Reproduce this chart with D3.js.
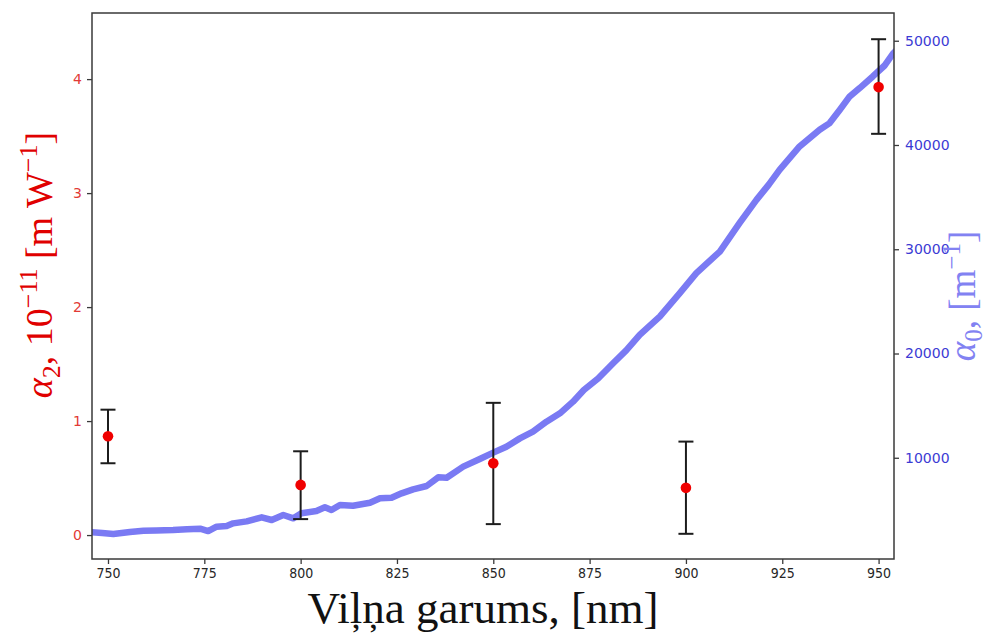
<!DOCTYPE html>
<html>
<head>
<meta charset="utf-8">
<script src="https://cdn.jsdelivr.net/npm/d3@7/dist/d3.min.js"></script>
<style>
  body { margin: 0; background: #fff; }
  svg { display: block; }
</style>
</head>
<body>
<div id="chart"></div>
<script>
// alpha2 measurements (left axis, 10^-11 m/W) with error bars
var pointWl = [750, 800, 850, 900, 950];
var alpha2 = [0.867, 0.44, 0.63, 0.414, 3.93];
var alpha2Lo = [0.63, 0.14, 0.096, 0.011, 3.52];
var alpha2Hi = [1.10, 0.735, 1.16, 0.82, 4.35];

// alpha0 absorption curve (right axis, 1/m)
var curveWl = [745.8, 748.5, 751.4, 755.7, 759.2, 762.5, 766.9, 770.5, 773.9, 776.0, 778.2, 780.8,
  782.5, 786.0, 789.9, 792.5, 795.5, 798.1, 800.2, 804.1, 806.3, 808.0, 810.2, 813.6, 818.0,
  820.6, 823.6, 826.2, 829.2, 832.7, 835.7, 837.9, 842.2, 846.5, 850.0, 853.4, 856.9, 860.3,
  863.8, 867.3, 870.7, 873.5, 877.2, 881.1, 884.5, 888.0, 893.2, 898.4, 902.7, 908.8, 913.9,
  918.3, 921.5, 924.3, 929.5, 934.7, 937.3, 940.0, 942.5, 945.1, 948.5, 951.5, 953.7, 956.0];
var alpha0 = [2850, 2780, 2690, 2880, 3000, 3030, 3070, 3140, 3200, 2970, 3390, 3450,
  3710, 3900, 4290, 4030, 4510, 4190, 4670, 4890, 5250, 4990, 5470, 5400, 5690,
  6110, 6170, 6590, 6970, 7290, 8120, 8090, 9150, 9880, 10490, 11060, 11860, 12500,
  13460, 14260, 15380, 16500, 17600, 19070, 20300, 21790, 23540, 25790, 27710, 29780, 32500,
  34740, 36200, 37620, 39860, 41460, 42100, 43400, 44660, 45460, 46570, 47600, 48750, 49600];

var xTicks = [750, 775, 800, 825, 850, 875, 900, 925, 950];
var leftTicks = [0, 1, 2, 3, 4];
var rightTicks = [10000, 20000, 30000, 40000, 50000];

var svgWidth = 994, svgHeight = 635;
var margin = { top: 13, bottom: 76, left: 92, right: 100 };
var width = svgWidth - margin.left - margin.right;
var height = svgHeight - margin.top - margin.bottom;

var svg = d3.select("#chart").append("svg")
    .attr("width", svgWidth)
    .attr("height", svgHeight);

var chartGroup = svg.append("g")
    .attr("transform", `translate(${margin.left}, ${margin.top})`);

var xScale = d3.scaleLinear().domain([745.85, 954.0]).range([0, width]);
var yLeft = d3.scaleLinear().domain([-0.21, 4.58]).range([height, 0]);
var yRight = d3.scaleLinear().domain([290, 52660]).range([height, 0]);

chartGroup.append("clipPath").attr("id", "plotclip")
  .append("rect").attr("width", width).attr("height", height);

// blue curve
var curve = curveWl.map((w, i) => ({ w: w, v: alpha0[i] }));
var line = d3.line().x(d => xScale(d.w)).y(d => yRight(d.v));
chartGroup.append("path")
    .datum(curve)
    .attr("clip-path", "url(#plotclip)")
    .attr("d", line)
    .attr("fill", "none")
    .attr("stroke", "rgb(122,122,243)")
    .attr("stroke-width", 6.5)
    .attr("stroke-linejoin", "round")
    .attr("stroke-linecap", "round");

// error bars
var pts = pointWl.map((w, i) => ({ w: w, v: alpha2[i], lo: alpha2Lo[i], hi: alpha2Hi[i] }));
var bars = chartGroup.append("g").attr("stroke", "#1c1c1c").attr("stroke-width", 2);
pts.forEach(function(d) {
  var cx = xScale(d.w);
  bars.append("line").attr("x1", cx).attr("x2", cx).attr("y1", yLeft(d.lo)).attr("y2", yLeft(d.hi));
  bars.append("line").attr("x1", cx - 7.5).attr("x2", cx + 7.5).attr("y1", yLeft(d.lo)).attr("y2", yLeft(d.lo));
  bars.append("line").attr("x1", cx - 7.5).attr("x2", cx + 7.5).attr("y1", yLeft(d.hi)).attr("y2", yLeft(d.hi));
});

chartGroup.selectAll("circle")
    .data(pts)
    .enter()
    .append("circle")
    .attr("cx", d => xScale(d.w))
    .attr("cy", d => yLeft(d.v))
    .attr("r", 5.3)
    .attr("fill", "#f00000");

// frame
chartGroup.append("rect")
    .attr("width", width).attr("height", height)
    .attr("fill", "none").attr("stroke", "#3a3a3a").attr("stroke-width", 1.5);

function styleAxis(g, color, size) {
  g.select(".domain").remove();
  g.selectAll(".tick line").attr("stroke", "#3a3a3a").attr("stroke-width", 1.3);
  g.selectAll(".tick text")
    .attr("fill", color)
    .style("font-family", "DejaVu Sans, sans-serif")
    .style("font-size", size + "px");
}

var xAxis = chartGroup.append("g")
    .attr("transform", `translate(0, ${height})`)
    .call(d3.axisBottom(xScale).tickValues(xTicks).tickSize(5).tickPadding(4).tickFormat(d3.format("d")));
styleAxis(xAxis, "#262626", 14);
xAxis.selectAll(".tick text").attr("transform", "scale(0.9,1)");

var leftAxis = chartGroup.append("g")
    .call(d3.axisLeft(yLeft).tickValues(leftTicks).tickSize(5).tickPadding(5).tickFormat(d3.format("d")));
styleAxis(leftAxis, "#e23a36", 14);

var rightAxis = chartGroup.append("g")
    .attr("transform", `translate(${width}, 0)`)
    .call(d3.axisRight(yRight).tickValues(rightTicks).tickSize(5).tickPadding(6).tickFormat(d3.format("d")));
styleAxis(rightAxis, "#3b3bd4", 14);

// axis titles
var serif = "Liberation Serif, Times New Roman, serif";

svg.append("text")
    .attr("x", 483).attr("y", 623)
    .attr("text-anchor", "middle")
    .style("font-family", serif).style("font-size", "45px")
    .attr("fill", "#111")
    .text("Viļņa garums, [nm]");

var leftTitle = svg.append("text")
    .attr("transform", "translate(52, 265) rotate(-90)")
    .attr("text-anchor", "middle")
    .style("font-family", serif).style("font-size", "38px")
    .attr("fill", "#e00000");
leftTitle.append("tspan").style("font-style", "italic").text("α");
leftTitle.append("tspan").attr("dy", 8).style("font-size", "26px").text("2");
leftTitle.append("tspan").attr("dy", -8).text(", 10");
leftTitle.append("tspan").attr("dy", -15).style("font-size", "26px").text("−11");
leftTitle.append("tspan").attr("dy", 15).text(" [m W");
leftTitle.append("tspan").attr("dy", -15).style("font-size", "26px").text("−1");
leftTitle.append("tspan").attr("dy", 15).text("]");

var rightTitle = svg.append("text")
    .attr("transform", "translate(975, 296) rotate(-90)")
    .attr("text-anchor", "middle")
    .style("font-family", serif).style("font-size", "37px")
    .attr("fill", "#8282f2");
rightTitle.append("tspan").style("font-style", "italic").text("α");
rightTitle.append("tspan").attr("dy", 7).style("font-size", "25px").text("0");
rightTitle.append("tspan").attr("dy", -7).text(", [m");
rightTitle.append("tspan").attr("dy", -15).style("font-size", "25px").text("−1");
rightTitle.append("tspan").attr("dy", 15).text("]");
</script>
</body>
</html>
